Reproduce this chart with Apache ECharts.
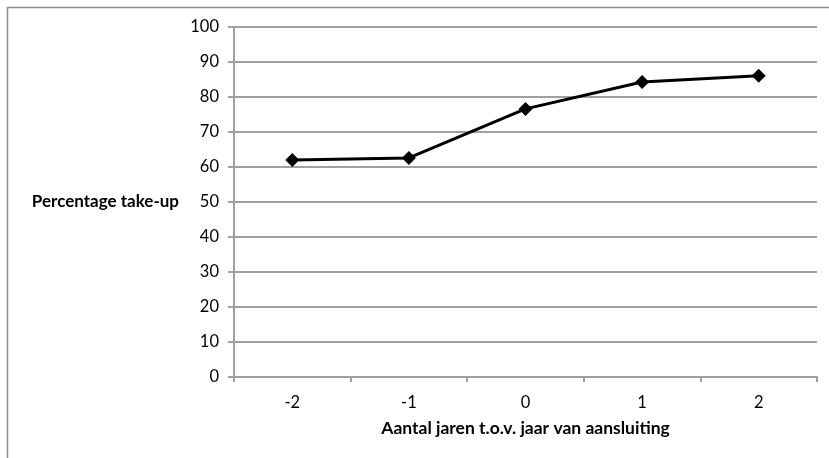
<!DOCTYPE html>
<html>
<head>
<meta charset="utf-8">
<script src="https://cdn.jsdelivr.net/npm/echarts@6/dist/echarts.min.js"></script>
<style>html,body{margin:0;padding:0;background:#fff;}#c{width:829px;height:458px;}</style>
</head>
<body>
<div id="c"></div>
<script>
const categories = ['-2', '-1', '0', '1', '2'];
const takeUp = [62.0, 62.6, 76.6, 84.3, 86.1];
const yTicks = { min: 0, max: 100, interval: 10 };
const yName = 'Percentage take-up';
const xName = 'Aantal jaren t.o.v. jaar van aansluiting';

const font = 'Lato, "Open Sans", sans-serif';
const chart = echarts.init(document.getElementById('c'), null, { renderer: 'canvas' });
chart.setOption({
  animation: false,
  backgroundColor: '#fff',
  graphic: [{
    type: 'rect',
    shape: { x: 7.5, y: 7.5, width: 840, height: 470 },
    style: { fill: 'none', stroke: '#8c8c8c', lineWidth: 1.5 },
    silent: true
  }],
  grid: { left: 234, right: 12, top: 27, bottom: 81 },
  xAxis: {
    type: 'category',
    data: categories,
    boundaryGap: true,
    name: xName,
    nameLocation: 'middle',
    nameGap: 42,
    nameTextStyle: { fontFamily: font, fontWeight: 'bold', fontSize: 17.5, color: '#000' },
    axisLine: { lineStyle: { color: '#a0a0a0', width: 2 } },
    axisTick: { show: true, alignWithLabel: false, length: 5, lineStyle: { color: '#a0a0a0', width: 2 } },
    axisLabel: { fontFamily: font, fontSize: 16.5, color: '#000', margin: 17 },
    splitLine: { show: false }
  },
  yAxis: {
    type: 'value',
    min: yTicks.min, max: yTicks.max, interval: yTicks.interval,
    name: yName,
    nameLocation: 'middle',
    nameRotate: 0,
    nameGap: 55,
    nameTextStyle: { fontFamily: font, fontWeight: 'bold', fontSize: 17, color: '#000', align: 'right' },
    axisLine: { show: true, lineStyle: { color: '#a0a0a0', width: 2 } },
    axisTick: { show: true, length: 6, lineStyle: { color: '#a0a0a0', width: 2 } },
    axisLabel: { fontFamily: font, fontSize: 16.5, color: '#000', margin: 15 },
    splitLine: { show: true, lineStyle: { color: '#a0a0a0', width: 2 } }
  },
  series: [{
    type: 'line',
    data: takeUp,
    symbol: 'diamond',
    symbolSize: 14,
    lineStyle: { color: '#000', width: 3 },
    itemStyle: { color: '#000' }
  }]
});
</script>
</body>
</html>
